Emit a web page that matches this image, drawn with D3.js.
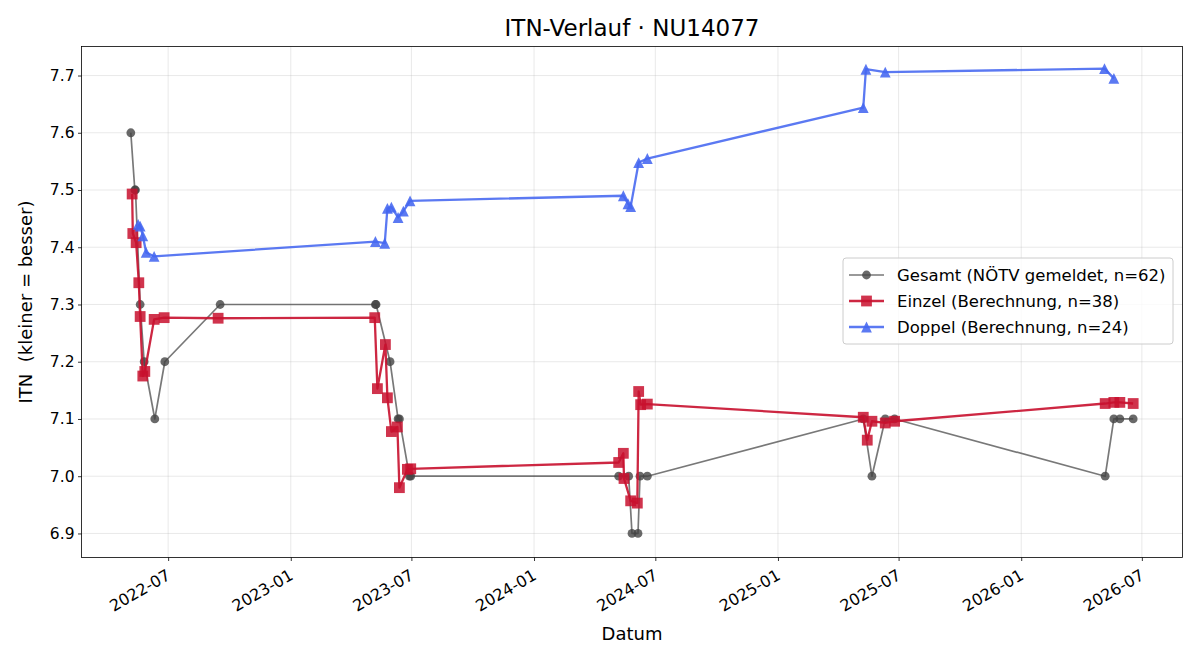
<!DOCTYPE html>
<html>
<head>
<meta charset="utf-8">
<script src="https://cdn.jsdelivr.net/npm/d3@7"></script>
<style>
  body { margin: 0; background: #fff; }
  svg { font-family: "DejaVu Sans", sans-serif; }
</style>
</head>
<body>
<svg id="chart" width="1200" height="660"></svg>
<script>
// Gesamt (NÖTV gemeldet)
var gesamtDates = ["2022-05-06","2022-05-12","2022-05-13","2022-05-20","2022-05-26","2022-06-11","2022-06-26","2022-09-17",
    "2023-05-08","2023-05-09","2023-05-30","2023-06-11","2023-06-13","2023-06-28","2023-06-30",
    "2024-05-07","2024-05-22","2024-05-27","2024-06-05","2024-06-08","2024-06-19",
    "2025-05-09","2025-05-22","2025-06-11","2025-06-25",
    "2026-05-07","2026-05-20","2026-05-29","2026-06-18"];
var gesamtValues = [7.6,7.5,7.5,7.3,7.2,7.1,7.2,7.3,
    7.3,7.3,7.2,7.1,7.1,7.0,7.0,
    7.0,7.0,6.9,6.9,7.0,7.0,
    7.1,7.0,7.1,7.1,
    7.0,7.1,7.1,7.1];

// Einzel (Berechnung)
var einzelDates = ["2022-05-08","2022-05-09","2022-05-14","2022-05-18","2022-05-20","2022-05-24","2022-05-27","2022-06-10","2022-06-25","2022-09-14",
    "2023-05-07","2023-05-11","2023-05-23","2023-05-26","2023-06-01","2023-06-10","2023-06-13","2023-06-25","2023-06-30",
    "2024-05-07","2024-05-14","2024-05-15","2024-05-25","2024-06-04","2024-06-06","2024-06-09","2024-06-19",
    "2025-05-09","2025-05-15","2025-05-22","2025-06-11","2025-06-25",
    "2026-05-07","2026-05-20","2026-05-29","2026-06-18"];
var einzelValues = [7.493,7.424,7.408,7.338,7.279,7.175,7.183,7.274,7.277,7.276,
    7.277,7.153,7.230,7.137,7.078,7.086,6.980,7.012,7.013,
    7.024,7.040,6.996,6.957,6.953,7.148,7.125,7.126,
    7.103,7.063,7.096,7.093,7.096,
    7.127,7.129,7.129,7.127];

// Doppel (Berechnung)
var doppelDates = ["2022-05-17","2022-05-20","2022-05-24","2022-05-29","2022-06-10",
    "2023-05-08","2023-05-22","2023-05-26","2023-06-01","2023-06-11","2023-06-19","2023-06-29",
    "2024-05-14","2024-05-21","2024-05-25","2024-06-06","2024-06-19",
    "2025-05-09","2025-05-13","2025-06-11",
    "2026-05-06","2026-05-20"];
var doppelValues = [7.440,7.437,7.420,7.391,7.384,
    7.410,7.407,7.468,7.470,7.452,7.463,7.481,
    7.490,7.476,7.471,7.548,7.555,
    7.644,7.711,7.706,
    7.712,7.695];

var yTicks = [6.9,7.0,7.1,7.2,7.3,7.4,7.5,7.6,7.7];
var legendLabels = ["Gesamt (NÖTV gemeldet, n=62)","Einzel (Berechnung, n=38)","Doppel (Berechnung, n=24)"];

var parseDate = d3.timeParse("%Y-%m-%d");

var makeSeries = function(dates, values)
{
    return dates.map(function(d, i) { return {date: parseDate(d), value: values[i]}; });
}

var series = [
    {name: legendLabels[0], data: makeSeries(gesamtDates, gesamtValues), color: "#444444", lineOpacity: 0.72, markerOpacity: 0.8, width: 1.7, marker: "circle"},
    {name: legendLabels[1], data: makeSeries(einzelDates, einzelValues), color: "#c8102e", lineOpacity: 0.9, markerOpacity: 0.85, width: 2.3, marker: "square"},
    {name: legendLabels[2], data: makeSeries(doppelDates, doppelValues), color: "#4466f0", lineOpacity: 0.88, markerOpacity: 0.88, width: 2.3, marker: "triangle"}
];

var plotLeft = 81.5, plotRight = 1182.5, plotTop = 46.5, plotBottom = 557.5;

var svg = d3.select("#chart");

var xScale = d3.scaleTime()
    .domain([parseDate("2022-02-21"), parseDate("2026-08-31")])
    .range([plotLeft, plotRight]);

var yScale = d3.scaleLinear()
    .domain([6.858, 7.7507])
    .range([plotBottom, plotTop]);

var xTicks = d3.timeMonth.every(6).range(parseDate("2022-07-01"), parseDate("2026-08-01"));

// grid
svg.append("g")
    .selectAll("line")
    .data(xTicks)
    .enter()
    .append("line")
    .attr("x1", function(d) { return xScale(d); })
    .attr("x2", function(d) { return xScale(d); })
    .attr("y1", plotTop).attr("y2", plotBottom)
    .attr("stroke", "#b0b0b0").attr("stroke-opacity", 0.35).attr("stroke-width", 0.8);

svg.append("g")
    .selectAll("line")
    .data(yTicks)
    .enter()
    .append("line")
    .attr("x1", plotLeft).attr("x2", plotRight)
    .attr("y1", function(d) { return yScale(d); })
    .attr("y2", function(d) { return yScale(d); })
    .attr("stroke", "#b0b0b0").attr("stroke-opacity", 0.35).attr("stroke-width", 0.8);

// axes
var xAxis = svg.append("g")
    .attr("transform", "translate(0," + plotBottom + ")")
    .call(d3.axisBottom(xScale).tickValues(xTicks).tickFormat(d3.timeFormat("%Y-%m")).tickSize(3.5).tickPadding(3.5));
xAxis.select(".domain").remove();
xAxis.selectAll("line").attr("stroke", "#000").attr("stroke-width", 0.8);
xAxis.selectAll("text")
    .attr("font-size", "16px")
    .attr("font-family", "DejaVu Sans")
    .attr("fill", "#000")
    .attr("text-anchor", "end")
    .attr("dy", null)
    .attr("y", 0)
    .attr("transform", "translate(3,21) rotate(-30)");

var yAxis = svg.append("g")
    .attr("transform", "translate(" + plotLeft + ",0)")
    .call(d3.axisLeft(yScale).tickValues(yTicks).tickFormat(d3.format(".1f")).tickSize(3.5).tickPadding(3.5));
yAxis.select(".domain").remove();
yAxis.selectAll("line").attr("stroke", "#000").attr("stroke-width", 0.8);
yAxis.selectAll("text")
    .attr("font-size", "15.5px")
    .attr("font-family", "DejaVu Sans")
    .attr("fill", "#000");

// lines
var line = d3.line()
    .x(function(d) { return xScale(d.date); })
    .y(function(d) { return yScale(d.value); });

var markerPath = function(type)
{
    if (type == "circle") { return d3.symbol().type(d3.symbolCircle).size(Math.PI * 4.4 * 4.4)(); }
    if (type == "square") { return "M-5.4,-5.4L5.4,-5.4L5.4,5.4L-5.4,5.4Z"; }
    return "M0,-5.4L-5.4,5.4L5.4,5.4Z";
}

series.forEach(function(s)
{
    svg.append("path")
        .datum(s.data)
        .attr("d", line)
        .attr("fill", "none")
        .attr("stroke", s.color)
        .attr("stroke-opacity", s.lineOpacity)
        .attr("stroke-width", s.width)
        .attr("stroke-linejoin", "round");

    svg.append("g")
        .selectAll("path")
        .data(s.data)
        .enter()
        .append("path")
        .attr("d", markerPath(s.marker))
        .attr("transform", function(d) { return "translate(" + xScale(d.date) + "," + yScale(d.value) + ")"; })
        .attr("fill", s.color)
        .attr("fill-opacity", s.markerOpacity);
});

// frame
svg.append("rect")
    .attr("x", plotLeft).attr("y", plotTop)
    .attr("width", plotRight - plotLeft).attr("height", plotBottom - plotTop)
    .attr("fill", "none").attr("stroke", "#000").attr("stroke-width", 0.8);

// title + labels
svg.append("text")
    .attr("x", (plotLeft + plotRight) / 2).attr("y", 36)
    .attr("text-anchor", "middle")
    .attr("font-size", "23px")
    .text("ITN-Verlauf · NU14077");

svg.append("text")
    .attr("x", (plotLeft + plotRight) / 2).attr("y", 640)
    .attr("text-anchor", "middle")
    .attr("font-size", "18px")
    .text("Datum");

svg.append("text")
    .attr("transform", "translate(32," + (plotTop + plotBottom) / 2 + ") rotate(-90)")
    .attr("text-anchor", "middle")
    .attr("font-size", "18px")
    .style("white-space", "pre")
    .text("ITN  (kleiner = besser)");

// legend
var legend = svg.append("g").attr("transform", "translate(843,258)");
legend.append("rect")
    .attr("width", 330).attr("height", 86)
    .attr("rx", 3)
    .attr("fill", "#fff").attr("fill-opacity", 0.8)
    .attr("stroke", "#cccccc").attr("stroke-width", 1);

series.forEach(function(s, i)
{
    var cy = 17 + i * 26;
    legend.append("line")
        .attr("x1", 6).attr("x2", 41)
        .attr("y1", cy).attr("y2", cy)
        .attr("stroke", s.color).attr("stroke-opacity", s.lineOpacity)
        .attr("stroke-width", s.width);
    legend.append("path")
        .attr("d", markerPath(s.marker))
        .attr("transform", "translate(23.5," + cy + ")")
        .attr("fill", s.color).attr("fill-opacity", s.markerOpacity);
    legend.append("text")
        .attr("x", 54).attr("y", cy)
        .attr("dy", "0.35em")
        .attr("font-size", "16.5px")
        .text(s.name);
});
</script>
</body>
</html>
